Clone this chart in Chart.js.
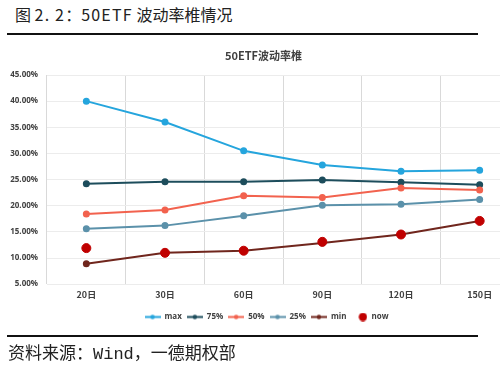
<!DOCTYPE html>
<html><head><meta charset="utf-8">
<script src="https://cdn.jsdelivr.net/npm/chart.js@4.4.0/dist/chart.umd.min.js"></script>
<style>
html,body{margin:0;padding:0;background:#fff;width:500px;height:371px;overflow:hidden;position:relative;}
#hdr{position:absolute;left:15px;top:2px;font-family:"Noto Sans CJK SC";font-size:16px;color:#222;white-space:nowrap;}
#hdr .l{letter-spacing:1.2px;}
.rule{position:absolute;left:7px;width:471px;height:2px;background:#111;}
#src{position:absolute;left:8px;top:339px;font-family:"Noto Sans CJK SC";font-size:17px;color:#222;white-space:nowrap;}
#src .m{font-family:"Liberation Mono";}
#wrap{position:absolute;left:0;top:40px;width:525px;height:296px;}
</style></head><body>
<div id="hdr">图 <span class="l">2. 2</span>：<span class="l">50ETF</span> 波动率椎情况</div>
<div class="rule" style="top:33px"></div>
<div id="wrap"><canvas id="c"></canvas></div>
<div class="rule" style="top:335px"></div>
<div id="src">资料来源：<span class="m">Wind</span>，一德期权部</div>
<script>
const categories = ['20日','30日','60日','90日','120日','150日'];
const maxVals = [40.0, 36.0, 30.5, 27.8, 26.6, 26.8];
const p75Vals = [24.2, 24.6, 24.6, 24.9, 24.5, 24.0];
const p50Vals = [18.4, 19.2, 21.9, 21.6, 23.4, 23.0];
const p25Vals = [15.6, 16.2, 18.1, 20.1, 20.3, 21.2];
const minVals = [8.9, 11.0, 11.4, 12.9, 14.5, 17.1];
const nowVals = [11.9, 11.0, 11.4, 13.1, 14.5, 17.1];
const yTicks = [5, 10, 15, 20, 25, 30, 35, 40, 45];

function legendLine(color){
  const c = document.createElement('canvas'); c.width = 16; c.height = 7;
  const g = c.getContext('2d');
  g.strokeStyle = color; g.lineWidth = 2; g.beginPath(); g.moveTo(0, 3.5); g.lineTo(16, 3.5); g.stroke();
  g.fillStyle = color; g.beginPath(); g.arc(8, 3.5, 2.2, 0, Math.PI*2); g.fill();
  return c;
}
function legendDot(color){
  const c = document.createElement('canvas'); c.width = 16; c.height = 9;
  const g = c.getContext('2d');
  g.fillStyle = color; g.beginPath(); g.arc(11.5, 4.5, 4.2, 0, Math.PI*2); g.fill();
  return c;
}
function line(label, data, color, order){
  return {label, data, borderColor: color, backgroundColor: color, borderWidth: 2,
    pointRadius: 2.5, pointHoverRadius: 2.5, pointStyle: 'circle', tension: 0, order: order,
    legendIcon: legendLine(color)};
}
const datasets = [
  line('max', maxVals, '#25a5dd', 6),
  line('75%', p75Vals, '#1d4d5c', 5),
  line('50%', p50Vals, '#f2624e', 4),
  line('25%', p25Vals, '#5b91aa', 3),
  line('min', minVals, '#70261d', 2),
  {label:'now', data: nowVals, showLine:false, borderColor:'#c00000', backgroundColor:'#c00000',
   pointRadius:4.5, pointHoverRadius:4.5, pointStyle:'circle', order: 1, legendIcon: legendDot('#c00000')}
];
const shiftBoxes = {
  id: 'shiftBoxes',
  afterLayout(chart){
    const lg = chart.legend, tt = chart.titleBlock;
    if (lg){ lg.top += 3; lg.bottom += 3; lg.left += 7; lg.right += 7; }
    if (tt){ tt.left += 4; tt.right += 4; }
  }
};
new Chart(document.getElementById('c'), {
  type: 'line',
  data: {labels: categories, datasets},
  plugins: [shiftBoxes],
  options: {
    responsive: true, maintainAspectRatio: false, animation: false,
    layout: {padding: {left: 0, right: 6, top: 0, bottom: 8}},
    plugins: {
      title: {display: true, text: '50ETF波动率椎', color: '#404040',
        font: {family: 'Noto Sans CJK SC', size: 11, weight: 'bold'}, padding: {top: 9, bottom: 12.8}},
      legend: {position: 'bottom',
        labels: {usePointStyle: true, pointStyleWidth: 16, boxHeight: 7, color: '#404040',
          font: {family: 'Open Sans', size: 8, weight: 'bold'}, padding: 5,
          sort: (a, b) => a.datasetIndex - b.datasetIndex,
          generateLabels: (chart) => {
            const items = Chart.defaults.plugins.legend.labels.generateLabels(chart);
            items.forEach(it => { it.pointStyle = chart.data.datasets[it.datasetIndex].legendIcon; });
            return items;
          }}},
      tooltip: {enabled: false}
    },
    scales: {
      x: {offset: true,
        grid: {offset: true, color: '#d9d9d9', drawTicks: false},
        border: {display: false},
        ticks: {color: '#404040', padding: 5, font: {family: 'Noto Sans CJK SC', size: 9, weight: 'bold'}}},
      y: {min: 5, max: 45,
        afterFit: (s) => { s.width = 47; },
        afterBuildTicks: (s) => { s.ticks = yTicks.map(v => ({value: v})); },
        grid: {color: '#ececec', drawTicks: false},
        border: {display: false},
        ticks: {color: '#404040', padding: 9, font: {family: 'Open Sans', size: 8, weight: 'bold'},
          callback: (v) => Number(v).toFixed(2) + '%'}}
    }
  }
});
</script>
</body></html>
